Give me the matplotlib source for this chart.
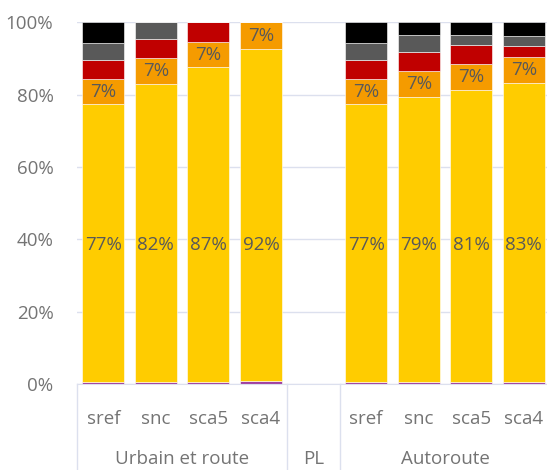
import numpy as np
import matplotlib
matplotlib.use("Agg")
import matplotlib.pyplot as plt
import matplotlib.ticker as ticker

plt.rcParams['font.family'] = ['Open Sans', 'DejaVu Sans']

# Categories (PL is an empty slot)
scenarios = ['sref', 'snc', 'sca5', 'sca4', '', 'sref', 'snc', 'sca5', 'sca4']
groups = ['Urbain et route', 'PL', 'Autoroute']
group_sizes = [4, 1, 4]

# Shares in % per segment, bottom to top
purple = [0.5, 0.5, 0.5, 0.8, 0, 0.5, 0.5, 0.5, 0.5]
yellow = [76.8, 82.4, 87.0, 91.8, 0, 76.8, 78.9, 80.8, 82.8]
orange = [6.9, 7.1, 7.1, 7.4, 0, 6.9, 7.1, 7.1, 7.2]
red = [5.4, 5.3, 5.4, 0, 0, 5.4, 5.2, 5.2, 2.9]
gray = [4.6, 4.7, 0, 0, 0, 4.6, 4.7, 2.8, 2.9]
black = [5.8, 0, 0, 0, 0, 5.8, 3.6, 3.6, 3.7]

yellow_labels = ['77%', '82%', '87%', '92%', '', '77%', '79%', '81%', '83%']
orange_labels = ['7%', '7%', '7%', '7%', '', '7%', '7%', '7%', '7%']

colors = ['#A040A0', '#FFCC00', '#F59B00', '#C00000', '#595959', '#000000']
txt = '#595959'
axis_txt = '#747474'
fs = 13.5

fig = plt.figure(figsize=(5.47, 4.70), dpi=100)
ax = fig.add_axes([0.1408, 0.183, 0.8592, 0.7696])

x = np.arange(len(scenarios))
bottom = np.zeros(len(x))
for vals, c in zip([purple, yellow, orange, red, gray, black], colors):
    ax.bar(x, vals, bottom=bottom, width=0.8, color=c, edgecolor='white',
           linewidth=0.4, zorder=3)
    bottom += np.array(vals)

# Data labels
base_o = np.array(purple) + np.array(yellow)
for i in range(len(x)):
    if yellow_labels[i]:
        ax.text(x[i], 38.3, yellow_labels[i], ha='center', va='center',
                fontsize=fs, color=txt, zorder=4)
    if orange_labels[i]:
        ax.text(x[i], base_o[i] + orange[i] / 2, orange_labels[i], ha='center',
                va='center', fontsize=fs, color=txt, zorder=4)

ax.set_xlim(-0.5, 8.44)
ax.set_ylim(0, 100)
ax.yaxis.set_major_locator(ticker.MultipleLocator(20))
ax.yaxis.set_major_formatter(ticker.FuncFormatter(lambda v, p: f'{v:.0f}%'))
ax.tick_params(axis='y', length=0, pad=17, labelsize=fs, labelcolor=axis_txt)
ax.grid(axis='y', color='#DCE0EE', linewidth=1, zorder=0)
for s in ['top', 'right', 'left']:
    ax.spines[s].set_visible(False)
ax.spines['bottom'].set_color('#DCE0EE')
ax.spines['bottom'].set_zorder(5)

ax.set_xticks(x)
ax.set_xticklabels(scenarios)
ax.tick_params(axis='x', length=0, pad=19, labelsize=fs, labelcolor=axis_txt)

# Multi-level category axis
tr = ax.get_xaxis_transform()
start = -0.5
edges = [start]
for g, n in zip(groups, group_sizes):
    end = start + n
    ax.text((start + end) / 2, -0.222, g, transform=tr, ha='center',
            va='baseline', fontsize=fs, color=axis_txt)
    start = end
    edges.append(end)
for e in edges:
    ax.plot([e, e], [0, -0.25], transform=tr, color='#DCE0EE', linewidth=1,
            clip_on=False)

fig.savefig('out.png', dpi=100)
